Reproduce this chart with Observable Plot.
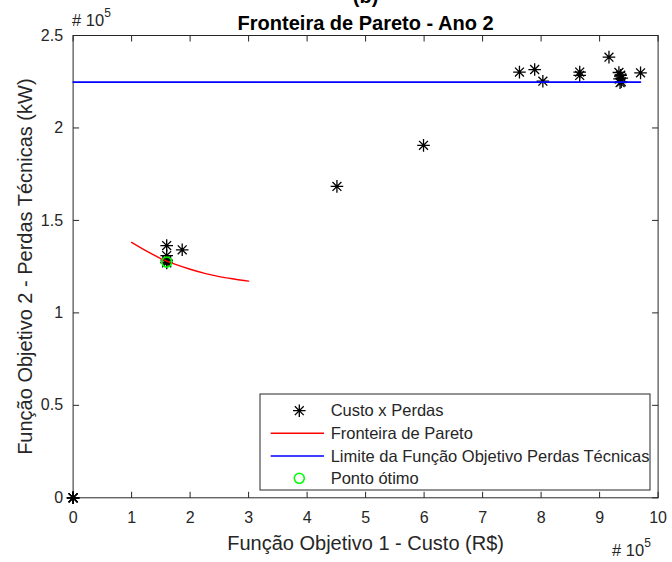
<!DOCTYPE html>
<html>
<head>
<meta charset="utf-8">
<script src="https://cdn.jsdelivr.net/npm/d3@7"></script>
<script src="https://cdn.jsdelivr.net/npm/@observablehq/plot@0.6"></script>
<style>
  html, body { margin: 0; padding: 0; background: #fff; }
  #wrap { position: relative; width: 672px; height: 562px; overflow: hidden; font-family: "Liberation Sans", Arial, sans-serif; color: #262626; }
  #wrap svg { position: absolute; left: 0; top: 0; }
  .exp { position: absolute; font-size: 16.5px; color: #262626; white-space: nowrap; }
  .exp sup { font-size: 12px; position: relative; top: -2px; }
</style>
</head>
<body>
<div id="wrap"></div>
<script>
// ---- data (values in units of 10^5) ----
const titulo = "Fronteira de Pareto - Ano 2";
const subtitulo = "(b)";
const rotuloX = "Função Objetivo 1 - Custo (R$)";
const rotuloY = "Função Objetivo 2 - Perdas Técnicas (kW)";
const expoente = "5";

const xTicks = [0, 1, 2, 3, 4, 5, 6, 7, 8, 9, 10];
const xTickLabels = ["0", "1", "2", "3", "4", "5", "6", "7", "8", "9", "10"];
const yTicks = [0, 0.5, 1, 1.5, 2, 2.5];
const yTickLabels = ["0", "0.5", "1", "1.5", "2", "2.5"];

// Custo x Perdas (asterisks)
const custo  = [0, 0, 0, 0, 1.60, 1.865, 1.60, 1.60, 1.60, 1.60, 4.51, 5.99, 7.63, 7.89, 8.03, 8.66, 8.66, 9.16, 9.33, 9.36, 9.34, 9.37, 9.35, 9.38, 9.70];
const perdas = [0, 0, 0, 0, 1.364, 1.341, 1.31, 1.285, 1.275, 1.27, 1.684, 1.906, 2.302, 2.316, 2.253, 2.302, 2.284, 2.383, 2.300, 2.285, 2.265, 2.250, 2.245, 2.270, 2.298];

// Fronteira de Pareto (red curve)
const frenteX = [1.00, 1.25, 1.50, 1.75, 2.00, 2.25, 2.50, 2.75, 3.00];
const frenteY = [1.381, 1.335, 1.294, 1.262, 1.236, 1.214, 1.196, 1.183, 1.172];

// Limite da Função Objetivo Perdas Técnicas (blue line)
const limiteX = [0, 9.70];
const limiteY = [2.248, 2.248];

// Ponto ótimo
const otimoX = [1.60];
const otimoY = [1.275];

const legendaNomes = ["Custo x Perdas", "Fronteira de Pareto", "Limite da Função Objetivo Perdas Técnicas", "Ponto ótimo"];

// ---- build tables ----
const pontos = custo.map((x, i) => ({x, y: perdas[i]}));
const frente = frenteX.map((x, i) => ({x, y: frenteY[i]}));
const limite = limiteX.map((x, i) => ({x, y: limiteY[i]}));
const otimo = otimoX.map((x, i) => ({x, y: otimoY[i]}));

// MATLAB-like 8-arm asterisk
const asterisk8 = {
  draw(ctx, size) {
    const r = Math.sqrt(size / Math.PI);
    const d = r * Math.SQRT1_2;
    ctx.moveTo(-r, 0); ctx.lineTo(r, 0);
    ctx.moveTo(0, -r); ctx.lineTo(0, r);
    ctx.moveTo(-d, -d); ctx.lineTo(d, d);
    ctx.moveTo(-d, d); ctx.lineTo(d, -d);
  }
};
const TL = 6;
const tickUp = {draw(c) { c.moveTo(0, 0); c.lineTo(0, -TL); }};
const tickDown = {draw(c) { c.moveTo(0, 0); c.lineTo(0, TL); }};
const tickRight = {draw(c) { c.moveTo(0, 0); c.lineTo(TL, 0); }};
const tickLeft = {draw(c) { c.moveTo(0, 0); c.lineTo(-TL, 0); }};

const axisColor = "#262626";
const font = "Liberation Sans, Arial, sans-serif";

const chart = Plot.plot({
  width: 672,
  height: 562,
  marginLeft: 72.6,
  marginRight: 14.4,
  marginTop: 35,
  marginBottom: 64.7,
  style: {fontFamily: font, fontSize: "16px", color: axisColor, background: "white", overflow: "visible"},
  x: {domain: [0, 10]},
  y: {domain: [0, 2.5]},
  marks: [
    Plot.axisX({ticks: xTicks, tickSize: 0, tickPadding: 14, fontSize: 16, label: null,
      tickFormat: d => xTickLabels[xTicks.indexOf(d)]}),
    Plot.axisY({ticks: yTicks, tickSize: 0, tickPadding: 10, fontSize: 16, label: null,
      tickFormat: d => yTickLabels[yTicks.indexOf(d)]}),
    Plot.dot(xTicks, {x: d => d, frameAnchor: "bottom", symbol: tickUp, stroke: axisColor, fill: "none", strokeWidth: 1}),
    Plot.dot(xTicks, {x: d => d, frameAnchor: "top", symbol: tickDown, stroke: axisColor, fill: "none", strokeWidth: 1}),
    Plot.dot(yTicks, {y: d => d, frameAnchor: "left", symbol: tickRight, stroke: axisColor, fill: "none", strokeWidth: 1}),
    Plot.dot(yTicks, {y: d => d, frameAnchor: "right", symbol: tickLeft, stroke: axisColor, fill: "none", strokeWidth: 1}),
    Plot.frame({stroke: axisColor, strokeWidth: 1}),
    Plot.dot(pontos, {x: "x", y: "y", symbol: asterisk8, r: 6.3, stroke: "black", fill: "none", strokeWidth: 1.3}),
    Plot.line(frente, {x: "x", y: "y", stroke: "#ff0000", strokeWidth: 1.4, curve: "catmull-rom"}),
    Plot.line(limite, {x: "x", y: "y", stroke: "#0000ff", strokeWidth: 1.6}),
    Plot.dot(otimo, {x: "x", y: "y", r: 5, stroke: "#00ff00", strokeWidth: 1.6, fill: "none"}),
    Plot.text([titulo], {frameAnchor: "top", dy: -20, fontSize: 20, fontWeight: "bold", fill: "black", textAnchor: "middle"}),
    Plot.text([subtitulo], {frameAnchor: "top", dy: -47, fontSize: 20, fontWeight: "bold", fill: "black", textAnchor: "middle"}),
    Plot.text([rotuloX], {frameAnchor: "bottom", dy: 52, fontSize: 20, fill: axisColor, textAnchor: "middle"}),
    Plot.text([rotuloY], {frameAnchor: "left", dx: -48, rotate: -90, fontSize: 20, fill: axisColor, textAnchor: "middle"})
  ]
});

const wrap = document.getElementById("wrap");
wrap.appendChild(chart);

// exponent labels
const expY = document.createElement("div");
expY.className = "exp";
expY.style.left = "72px"; expY.style.top = "8px";
expY.innerHTML = "# 10<sup>" + expoente + "</sup>";
wrap.appendChild(expY);
const expX = document.createElement("div");
expX.className = "exp";
expX.style.left = "612px"; expX.style.top = "538px";
expX.innerHTML = "# 10<sup>" + expoente + "</sup>";
wrap.appendChild(expX);

// legend
const lg = d3.create("svg")
  .attr("width", 392).attr("height", 98)
  .style("left", "259px").style("top", "393px")
  .style("font-family", font);
lg.append("rect").attr("x", 1).attr("y", 1).attr("width", 390).attr("height", 96)
  .attr("fill", "white").attr("stroke", axisColor).attr("stroke-width", 1);
const rowY = [17.7, 40.3, 63, 85.3];
// star sample
lg.append("path").attr("transform", `translate(40.3,${rowY[0]})`)
  .attr("d", d3.symbol(asterisk8, 6.3 * 6.3 * Math.PI)())
  .attr("fill", "none").attr("stroke", "black").attr("stroke-width", 1.3);
lg.append("line").attr("x1", 11.7).attr("x2", 65).attr("y1", rowY[1]).attr("y2", rowY[1])
  .attr("stroke", "#ff0000").attr("stroke-width", 1.4);
lg.append("line").attr("x1", 11.7).attr("x2", 65).attr("y1", rowY[2]).attr("y2", rowY[2])
  .attr("stroke", "#0000ff").attr("stroke-width", 1.6);
lg.append("circle").attr("cx", 40.3).attr("cy", rowY[3]).attr("r", 5)
  .attr("fill", "none").attr("stroke", "#00ff00").attr("stroke-width", 1.6);
lg.selectAll("text.nm").data(legendaNomes).join("text")
  .attr("class", "nm")
  .attr("x", 71.7).attr("y", (d, i) => rowY[i]).attr("dy", "0.35em")
  .attr("font-size", 16.5).attr("fill", axisColor)
  .text(d => d);
wrap.appendChild(lg.node());
</script>
</body>
</html>
